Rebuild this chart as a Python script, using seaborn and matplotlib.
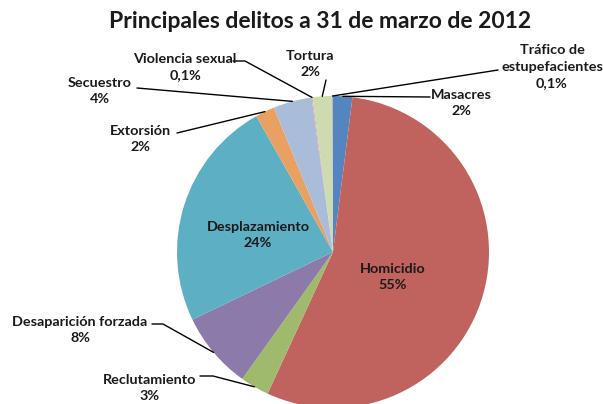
import numpy as np
import matplotlib
matplotlib.use("Agg")
import matplotlib.pyplot as plt
import seaborn as sns
from matplotlib.lines import Line2D

# data (clockwise from 12 o'clock)
delitos = ["Masacres", "Homicidio", "Reclutamiento", "Desaparición forzada",
           "Desplazamiento", "Extorsión", "Secuestro", "Violencia sexual",
           "Tortura", "Tráfico de\nestupefacientes"]
porcentajes = [2, 55, 3, 8, 24, 2, 4, 0.1, 2, 0.1]
colores = ["#5585BE", "#C0635E", "#9FBA6C", "#8C7AAA", "#5DAFC4",
           "#E8A063", "#A9BDDB", "#DFA3A2", "#CDDBB0", "#B9AACF"]

titulo = "Principales delitos a 31 de marzo de 2012"

W, H = 603, 404
sns.set_theme(style="white")
plt.rcParams['font.family'] = ['Lato', 'DejaVu Sans']

fig = plt.figure(figsize=(W / 100, H / 100), dpi=100)
fig.patch.set_facecolor("white")

# pie axes: center (333, 252) px from top, radius 156 px
cx, cy, r = 333, 252, 156
ax = fig.add_axes([(cx - r) / W, (H - cy - r) / H, 2 * r / W, 2 * r / H])
wedges, _ = ax.pie(porcentajes, colors=colores, startangle=90,
                   counterclock=False, radius=1,
                   wedgeprops=dict(linewidth=0))
ax.set_xlim(-1, 1)
ax.set_ylim(-1, 1)
ax.set_aspect("equal")
ax.axis("off")


def etiqueta(v):
    if v < 1:
        return f"{v:.1f}%".replace(".", ",")
    return f"{v:.0f}%"


def px(x, y):
    # top-origin pixels -> figure fraction
    return x / W, 1 - y / H


def borde(w, frac=1.0):
    ang = np.deg2rad((w.theta1 + w.theta2) / 2)
    d = ax.transData.transform((frac * np.cos(ang), frac * np.sin(ang)))
    return d[0], H - d[1]


fs = 10.4
# text center (x, y top-origin), leader start, leader elbow
layout = {
    "Masacres": ((461, 103), (430, 97), None),
    "Tráfico de\nestupefacientes": ((552, 67), (498, 70), None),
    "Tortura": ((310, 64), (326, 80), None),
    "Violencia sexual": ((185, 67), (233, 61), (245, 61)),
    "Secuestro": ((100, 91), (137, 88), None),
    "Extorsión": ((140, 139), (177, 133), None),
    "Desaparición forzada": ((80, 330), (152, 324), (163, 324)),
    "Reclutamiento": ((150, 388), (200, 376), (213, 376)),
    "Desplazamiento": ((258, 235), None, None),
    "Homicidio": ((393, 277), None, None),
}

for w, nombre, v in zip(wedges, delitos, porcentajes):
    (tx, ty), p0, p1 = layout[nombre]
    fx, fy = px(tx, ty)
    fig.text(fx, fy, f"{nombre}\n{etiqueta(v)}", ha="center", va="center",
             fontsize=fs, fontweight="bold", color="#1a1a1a",
             linespacing=1.45)
    if p0 is not None:
        pts = [p0] + ([p1] if p1 else []) + [borde(w)]
        xs = [p[0] / W for p in pts]
        ys = [1 - p[1] / H for p in pts]
        fig.add_artist(Line2D(xs, ys, color="black", lw=1,
                              transform=fig.transFigure))

fig.text(320 / W, 1 - 21 / H, titulo, ha="center", va="center",
         fontsize=16.5, fontweight="bold", color="#1a1a1a")

fig.savefig("out.png", dpi=100, facecolor="white")
